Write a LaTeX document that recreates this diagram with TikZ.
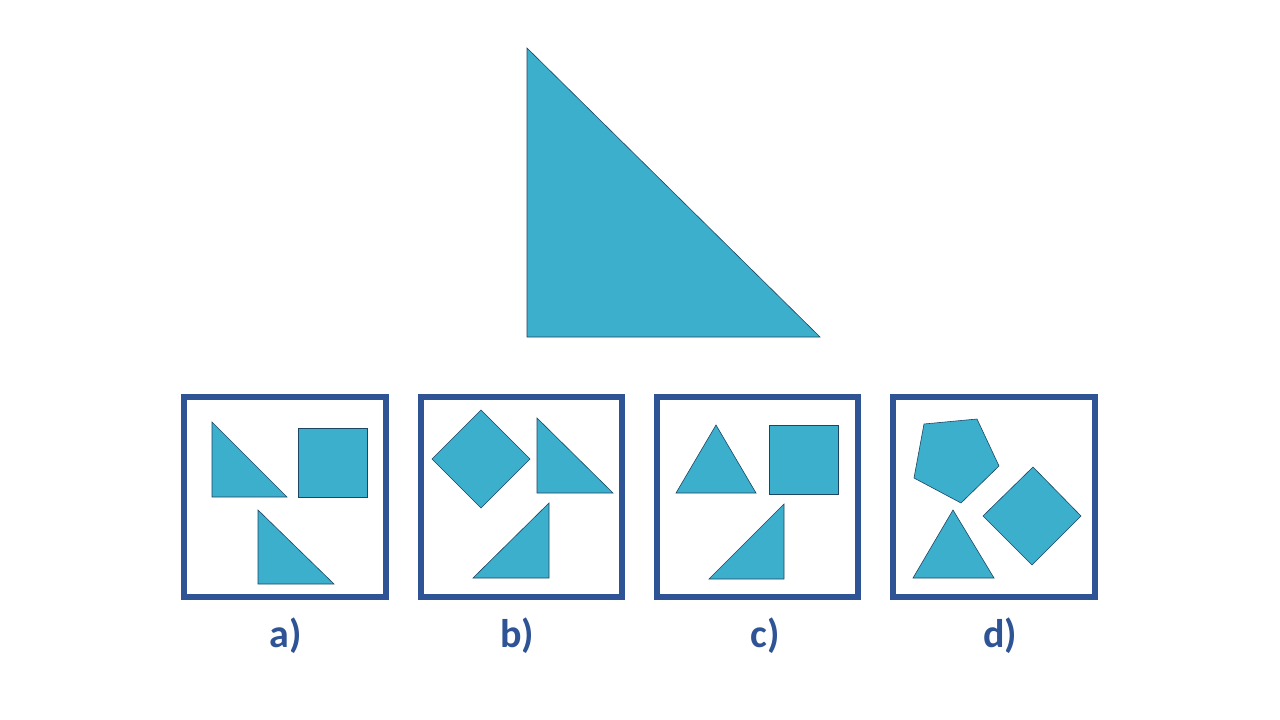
\documentclass[tikz,border=0pt]{standalone}
\usepackage{fontspec}
\setmainfont{Carlito}
\definecolor{fillc}{RGB}{59,175,204}
\definecolor{edgec}{RGB}{30,70,100}
\definecolor{boxc}{RGB}{47,84,150}
\begin{document}
\begin{tikzpicture}[x=1pt,y=-1pt,
  shp/.style={fill=fillc,draw=edgec,line width=0.6pt},
  frame/.style={draw=boxc,line width=6pt},
  lbl/.style={text=boxc,font=\bfseries\fontsize{40}{40}\selectfont}]
\useasboundingbox (0,0) rectangle (1280,720);
\fill[white] (0,0) rectangle (1280,720);
\draw[shp] (527,48)--(527,337)--(820,337)--cycle;
% frames
\draw[frame] (184,397) rectangle (386,597);
\draw[frame] (421,397) rectangle (622,597);
\draw[frame] (657,397) rectangle (858,597);
\draw[frame] (893,397) rectangle (1095,597);
% a
\draw[shp] (212,422)--(212,497)--(287,497)--cycle;
\draw[shp] (298,428) rectangle (367,497);
\draw[shp] (258,510)--(258,584)--(334,584)--cycle;
% b
\draw[shp] (481,410)--(530,459)--(481,508)--(432,459)--cycle;
\draw[shp] (537,418)--(537,493)--(613,493)--cycle;
\draw[shp] (549,503)--(549,578)--(473,578)--cycle;
% c
\draw[shp] (676,493)--(756,493)--(716,425)--cycle;
\draw[shp] (769,425) rectangle (838,494);
\draw[shp] (784,504)--(784,579)--(709,579)--cycle;
% d
\draw[shp] (924,424)--(977,419)--(999,466)--(961,503)--(914,478)--cycle;
\draw[shp] (1033,467)--(1081,516)--(1032,565)--(983,516)--cycle;
\draw[shp] (913,578)--(994,578)--(953,510)--cycle;
% labels
\node[lbl] (la) at (286,636) {a)};
\node[lbl] (lb) at (517,636) {b)};
\node[lbl] (lc) at (765,636) {c)};
\node[lbl] (ld) at (1000,636) {d)};
\end{tikzpicture}
\end{document}
